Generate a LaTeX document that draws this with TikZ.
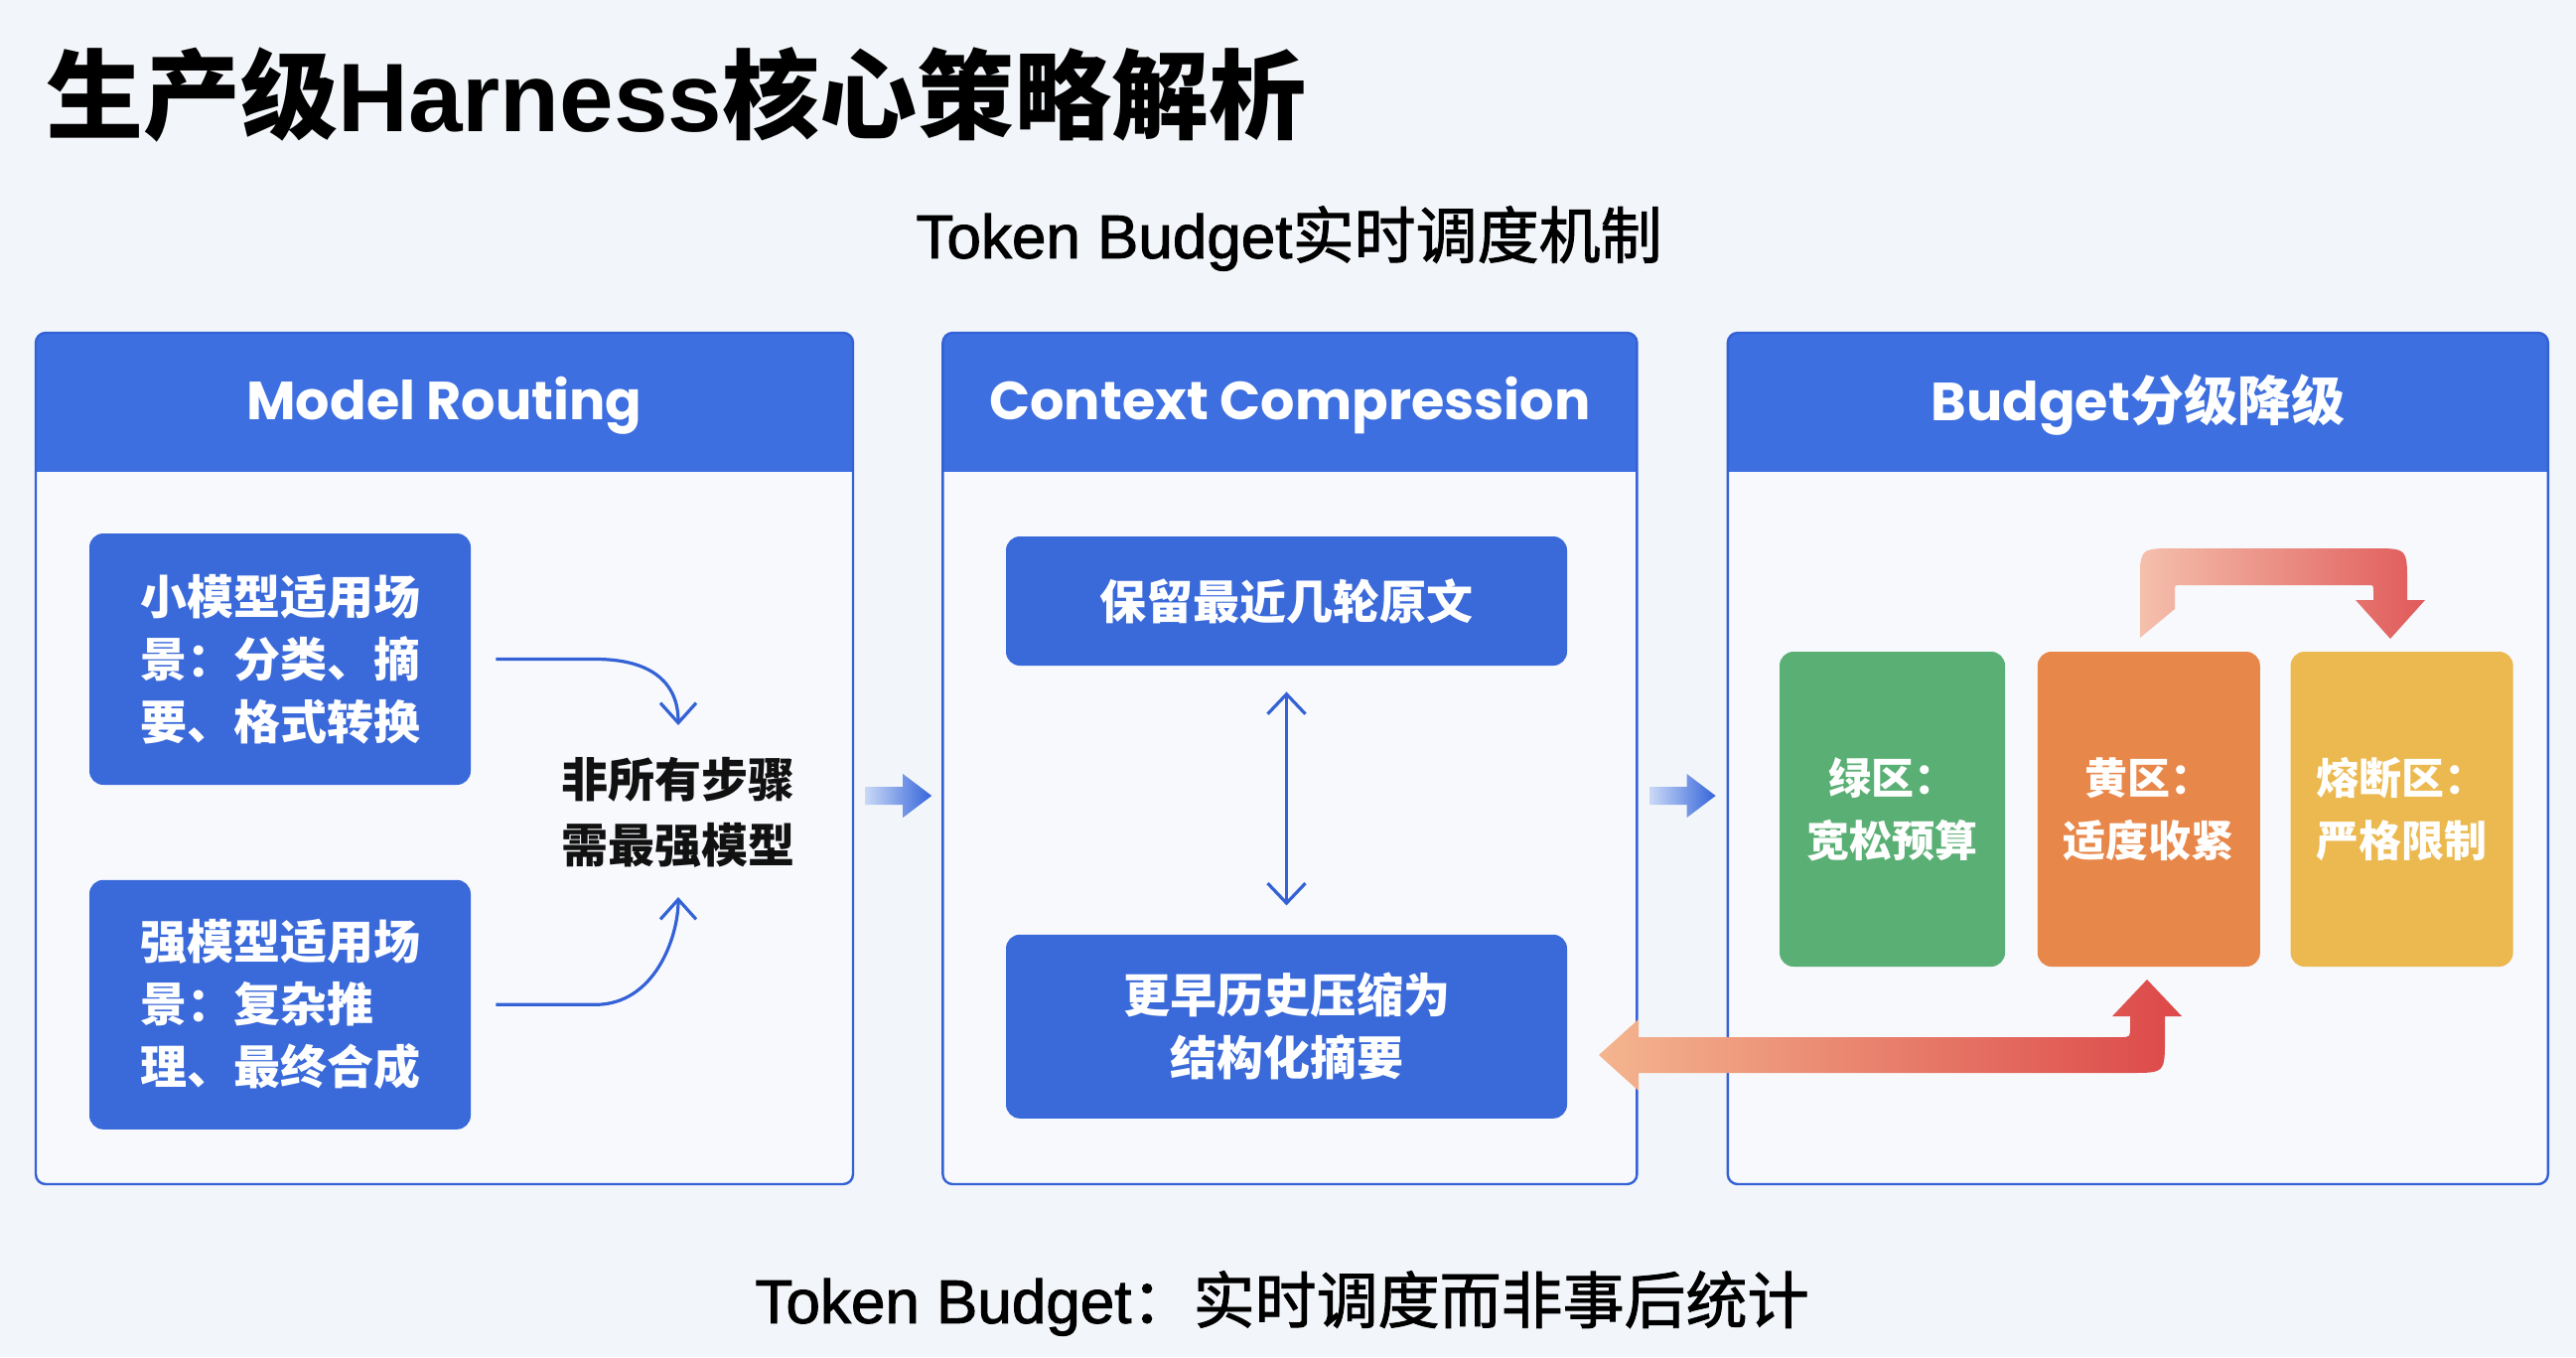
\documentclass[tikz,border=0pt]{standalone}
\usepackage{fontspec}
\setmainfont{Liberation Sans}
\newfontfamily\cjk{Noto Sans CJK SC}
\newfontfamily\pop{Poppins}
\newfontfamily\sansmed{Liberation Sans}[FakeBold=1.5]
\newfontfamily\cjkmed{Noto Sans CJK SC}[FakeBold=1.5]
\usetikzlibrary{arrows.meta, positioning}

\definecolor{bgcol}{HTML}{F2F5F9}
\definecolor{panelfill}{HTML}{F7F9FD}
\definecolor{headblue}{HTML}{3D6FE0}
\definecolor{boxblue}{HTML}{3A69DA}
\definecolor{lineblue}{HTML}{3462D6}
\definecolor{arrlight}{HTML}{C9D8F6}
\definecolor{arrblue}{HTML}{3565DA}
\definecolor{zonegreen}{HTML}{5AAF74}
\definecolor{zoneorange}{HTML}{E8874A}
\definecolor{zoneyellow}{HTML}{EBB94F}
\definecolor{redlight}{HTML}{F4B58F}
\definecolor{reddark}{HTML}{DC4848}
\definecolor{pinklight}{HTML}{F5C0AC}
\definecolor{pinkdark}{HTML}{E05A5A}
\definecolor{inkblack}{HTML}{111111}

\begin{document}
\begin{tikzpicture}[x=0.5pt, y=-0.5pt,
    node distance=44pt,
    panel/.style={draw=lineblue, line width=1.2pt, fill=panelfill,
                  rounded corners=5pt, minimum height=428.5pt, inner sep=0pt,
                  path picture={\fill[headblue, sharp corners]
                    (path picture bounding box.north west) rectangle
                    ([yshift=-70pt]path picture bounding box.north east);}},
    headtext/.style={text=white, font=\fontsize{27}{32}\selectfont\pop\bfseries},
    bluebox/.style={fill=boxblue, rounded corners=7pt, text=white,
                    font=\fontsize{23.5}{31.5}\selectfont\cjk\bfseries},
    zone/.style={rounded corners=7pt, text=white, minimum width=112pt,
                 minimum height=158.5pt, align=center,
                 font=\fontsize{21.5}{31.5}\selectfont\cjk\bfseries},
    curvearr/.style={draw=lineblue, line width=1.6pt,
                     -{Straight Barb[length=10pt, width=18pt]}},
    dblarr/.style={draw=lineblue, line width=1.6pt,
                   {Straight Barb[length=10pt, width=19pt]}-{Straight Barb[length=10pt, width=19pt]}}
  ]
  \fill[bgcol] (0,0) rectangle (2594,1366);

  % titles
  \node[anchor=west, inner sep=0pt, font=\fontsize{49}{55}\selectfont\bfseries] (title)
    at (46,95) {{\cjk 生产级}Harness{\cjk 核心策略解析}};
  \node[font=\fontsize{31}{36}\selectfont\sansmed] (subtitle) at (1298,240)
    {Token Budget{\cjkmed 实时调度机制}};

  % panels
  \node[panel, minimum width=411.5pt] (routing) at (447.5,763.5) {};
  \node[panel, minimum width=349.5pt, right=of routing] (compress) {};
  \node[panel, minimum width=413pt, right=44.5pt of compress] (budget) {};
  \node[headtext] (routingT) at ([yshift=-37pt]routing.north) {Model Routing};
  \node[headtext] (compressT) at ([yshift=-37pt]compress.north) {Context Compression};
  \node[headtext] (budgetT) at ([yshift=-37pt]budget.north) {Budget{\cjk 分级降级}};

  % model routing
  \node[bluebox, align=left, minimum width=192pt, minimum height=126.5pt] (small)
    at (282,663.5) {小模型适用场\\景：分类、摘\\要、格式转换};
  \node[bluebox, align=left, minimum width=192pt, minimum height=125.5pt,
        below=47.5pt of small] (strong) {强模型适用场\\景：复杂推\\理、最终合成};
  \node[align=center, text=inkblack, font=\fontsize{23.5}{33}\selectfont\cjk\bfseries] (note)
    at (683,818) {非所有步骤\\需最强模型};
  \draw[curvearr] ([xshift=12.5pt]small.east) -- ++(100,0)
    .. controls +(60,0) and +(0,-40) .. ([yshift=44pt]note.center);
  \draw[curvearr] ([xshift=12.5pt]strong.east) -- ++(100,0)
    .. controls +(60,0) and +(0,40) .. ([yshift=-42.5pt]note.center);

  % context compression
  \node[bluebox, align=center, minimum width=282.5pt, minimum height=65pt] (recent)
    at (1295.5,605) {保留最近几轮原文};
  \node[bluebox, align=center, minimum width=282.5pt, minimum height=92.5pt,
        below=135pt of recent] (summary) {更早历史压缩为\\结构化摘要};
  \draw[dblarr, shorten <=13pt, shorten >=14.5pt] (recent.south) -- (summary.north);

  % budget zones
  \node[zone, fill=zonegreen, minimum width=113.5pt] (green) at (1905.5,814.5) {绿区：\\宽松预算};
  \node[zone, fill=zoneorange, right=16pt of green] (orange) {黄区：\\适度收紧};
  \node[zone, fill=zoneyellow, right=15pt of orange] (yellow) {熔断区：\\严格限制};

  % arrows between panels
  \shade[left color=arrlight, right color=arrblue]
    ([shift={(11,28.5)}]routing.east) -- ++(38,0) -- ++(0,-13) -- ++(29,22)
    -- ++(-29,22) -- ++(0,-13) -- ++(-38,0) -- cycle;
  \shade[left color=arrlight, right color=arrblue]
    ([shift={(12,28.5)}]compress.east) -- ++(37,0) -- ++(0,-13) -- ++(29,22)
    -- ++(-29,22) -- ++(0,-13) -- ++(-37,0) -- cycle;

  % feedback arrow
  \shade[left color=redlight, right color=reddark]
    (1610,1062) -- (1650,1026) -- (1650,1044) -- (2135,1044)
    .. controls (2145,1044) .. (2145,1034) -- (2145,1023) -- (2127,1023)
    -- (2162,986) -- (2197,1023) -- (2180,1023) -- (2180,1045)
    .. controls (2180,1080) .. (2145,1080) -- (1650,1080) -- (1650,1098) -- cycle;
  % escalation arrow
  \shade[left color=pinklight, right color=pinkdark]
    (2155,642) -- (2155,587) .. controls (2155,552) .. (2190,552) -- (2389,552)
    .. controls (2424,552) .. (2424,587) -- (2424,604) -- (2442,604) -- (2407,643)
    -- (2372,604) -- (2390,604) -- (2390,595) .. controls (2390,589) .. (2384,589)
    -- (2196,589) .. controls (2190,589) .. (2190,595) -- (2190,613) -- cycle;

  \node[font=\fontsize{31}{36}\selectfont\sansmed] (motto) at (1291,1312)
    {Token Budget{\cjkmed ：实时调度而非事后统计}};
\end{tikzpicture}
\end{document}
